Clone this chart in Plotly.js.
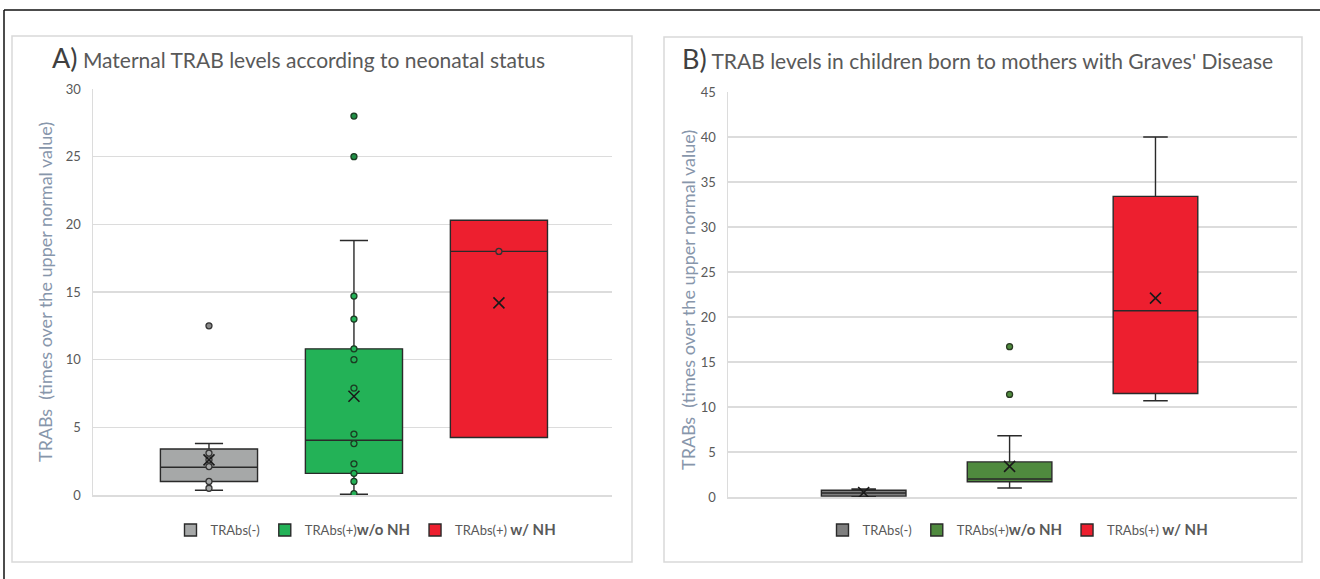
<!DOCTYPE html>
<html>
<head>
<meta charset="utf-8">
<script src="https://cdn.plot.ly/plotly-3.0.1.min.js"></script>
<style>html,body{margin:0;padding:0;background:#fff;}#chart{width:1320px;height:579px;}</style>
</head>
<body>
<div id="chart"></div>
<script>
// ---------- data ----------
const groups = ['TRAbs(-)', 'TRAbs(+)w/o NH', 'TRAbs(+) w/ NH'];
const legendNames = ['TRAbs(-)', 'TRAbs(+)<span style="font-size:15px;font-weight:bold">w/o NH</span>', 'TRAbs(+) <span style="font-size:15px;font-weight:bold">w/ NH</span>'];

// Panel A: maternal TRAB levels (box statistics)
const A_lowerfence = [0.35, 0.05, 4.25];
const A_q1         = [1.0, 1.6, 4.25];
const A_median     = [2.05, 4.05, 18.0];
const A_q3         = [3.4, 10.8, 20.3];
const A_upperfence = [3.8, 18.8, 20.3];
const A_mean       = [2.6, 7.3, 14.2];
const A_pointsNeg   = [0.5, 1.0, 2.1, 2.6, 3.1];
const A_pointsWoNH  = [0.1, 1.0, 1.6, 2.3, 3.8, 4.5, 7.9, 10.0, 10.8, 13.0, 14.7];
const A_pointsWNH   = [18.0];
const A_outNeg  = [12.5];
const A_outWoNH = [25.0, 28.0];

// Panel B: children TRAB levels
const B_lowerfence = [0.05, 1.0, 10.7];
const B_q1         = [0.1, 1.7, 11.5];
const B_median     = [0.45, 2.0, 20.7];
const B_q3         = [0.75, 3.9, 33.4];
const B_upperfence = [0.9, 6.8, 40.0];
const B_mean       = [0.5, 3.4, 22.1];
const B_outWoNH = [11.4, 16.7];

const yTicksA = [0, 5, 10, 15, 20, 25, 30];
const yTicksB = [0, 5, 10, 15, 20, 25, 30, 35, 40, 45];

// ---------- styling ----------
const FONT = 'Lato, "Open Sans", sans-serif';
const colA = ['#a6a8a8', '#23b257', '#ed1f2f'];
const colB = ['#7f7f7f', '#4f8a3e', '#ed1f2f'];
const LINE = '#2a2a2a';
const W = 1320, H = 579;
const px = v => v / W, py = v => 1 - v / H;

const traces = [];
function addPanel(ax, cols, stats, legendId) {
  const xa = ax === 1 ? 'x' : 'x2', ya = ax === 1 ? 'y' : 'y2';
  for (let i = 0; i < 3; i++) {
    traces.push({
      type: 'box', xaxis: xa, yaxis: ya, x: [groups[i]],
      q1: [stats.q1[i]], median: [stats.median[i]], q3: [stats.q3[i]],
      lowerfence: [stats.lf[i]], upperfence: [stats.uf[i]],
      name: legendNames[i], legend: legendId,
      fillcolor: cols[i], line: {color: LINE, width: 1.4},
      width: stats.w, whiskerwidth: 0.29, boxpoints: false, hoverinfo: 'skip'
    });
  }
}
function addPoints(ax, cat, ys, fill, lineCol, size) {
  traces.push({
    type: 'scatter', mode: 'markers', xaxis: ax === 1 ? 'x' : 'x2', yaxis: ax === 1 ? 'y' : 'y2',
    x: ys.map(() => cat), y: ys, showlegend: false, hoverinfo: 'skip',
    marker: {symbol: 'circle', size: size || 6, color: fill, line: {color: lineCol, width: 1.3}}
  });
}
function addMeans(ax, means) {
  traces.push({
    type: 'scatter', mode: 'markers', xaxis: ax === 1 ? 'x' : 'x2', yaxis: ax === 1 ? 'y' : 'y2',
    x: groups, y: means, showlegend: false, hoverinfo: 'skip',
    marker: {symbol: 'x-thin-open', size: 11, color: '#1a1a1a', line: {color: '#1a1a1a', width: 1.6}}
  });
}

addPanel(1, colA, {q1: A_q1, median: A_median, q3: A_q3, lf: A_lowerfence, uf: A_upperfence, w: 0.67}, 'legend');
addPoints(1, groups[0], A_pointsNeg, colA[0], '#333');
addPoints(1, groups[1], A_pointsWoNH, colA[1], '#1b3b22');
addPoints(1, groups[2], A_pointsWNH, colA[2], '#333');
addPoints(1, groups[0], A_outNeg, '#8a8a8a', '#333');
addPoints(1, groups[1], A_outWoNH, '#1f8f45', '#1b3b22');
addMeans(1, A_mean);

addPanel(2, colB, {q1: B_q1, median: B_median, q3: B_q3, lf: B_lowerfence, uf: B_upperfence, w: 0.58}, 'legend2');
addPoints(2, groups[1], B_outWoNH, '#4f8a3e', '#2a3a22');
addMeans(2, B_mean);

const tickFont = {family: FONT, size: 13, color: '#595959'};
function yaxis(range, ticks, domain, anchor) {
  return {
    domain: domain, range: range, tickvals: ticks, ticktext: ticks.map(String), anchor: anchor,
    showgrid: true, gridcolor: '#dcdcdc', gridwidth: 1.5, zeroline: false,
    showline: true, linecolor: '#dcdcdc', linewidth: 1.5, ticks: '', ticklabelstandoff: 8,
    tickfont: tickFont, fixedrange: true
  };
}
function xaxis(range, domain, anchor) {
  return {
    domain: domain, type: 'category', categoryarray: groups, range: range, anchor: anchor,
    showticklabels: false, showgrid: false, zeroline: false, ticks: '',
    showline: true, linecolor: '#dcdcdc', linewidth: 1.5, fixedrange: true
  };
}

const legendBase = {orientation: 'h', xanchor: 'center', y: py(530), yanchor: 'middle',
  font: {family: FONT, size: 13, color: '#595959'}, itemwidth: 30, bgcolor: 'rgba(0,0,0,0)'};

const layout = {
  width: W, height: H, margin: {l: 0, r: 0, t: 0, b: 0, autoexpand: false},
  paper_bgcolor: '#fff', plot_bgcolor: '#fff', font: {family: FONT},
  xaxis: xaxis([-0.8, 2.78], [px(93), px(612)], 'y'),
  yaxis: yaxis([0, 30], yTicksA, [py(495), py(89)], 'x'),
  xaxis2: xaxis([-0.93, 2.97], [px(728), px(1297)], 'y2'),
  yaxis2: yaxis([0, 45], yTicksB, [py(497), py(92)], 'x2'),
  legend: Object.assign({}, legendBase, {x: px(366)}),
  legend2: Object.assign({}, legendBase, {x: px(1018)}),
  shapes: [
    {type: 'line', xref: 'paper', yref: 'paper', x0: px(4), x1: 1, y0: py(10), y1: py(10), line: {color: '#111', width: 1.5}},
    {type: 'line', xref: 'paper', yref: 'paper', x0: px(4), x1: px(4), y0: py(10), y1: 0, line: {color: '#111', width: 1.5}},
    {type: 'rect', xref: 'paper', yref: 'paper', x0: px(12), x1: px(632), y0: py(562), y1: py(36), line: {color: '#d9d9d9', width: 1.5}},
    {type: 'rect', xref: 'paper', yref: 'paper', x0: px(664), x1: px(1302), y0: py(562), y1: py(37), line: {color: '#d9d9d9', width: 1.5}}
  ],
  annotations: [
    {xref: 'paper', yref: 'paper', x: px(50), y: py(58), xanchor: 'left', yanchor: 'middle', showarrow: false,
     text: '<span style="font-size:27px;color:#404040">A)</span> Maternal TRAB levels according to neonatal status',
     font: {family: FONT, size: 21, color: '#595959'}},
    {xref: 'paper', yref: 'paper', x: px(680), y: py(59), xanchor: 'left', yanchor: 'middle', showarrow: false,
     text: '<span style="font-size:27px;color:#404040">B)</span> TRAB levels in children born to mothers with Graves\' Disease',
     font: {family: FONT, size: 21, color: '#595959'}},
    {xref: 'paper', yref: 'paper', x: px(45), y: py(292), xanchor: 'center', yanchor: 'middle', showarrow: false, textangle: -90,
     text: 'TRABs  (times over the upper normal value)', font: {family: FONT, size: 18, color: '#8796ab'}},
    {xref: 'paper', yref: 'paper', x: px(688), y: py(300), xanchor: 'center', yanchor: 'middle', showarrow: false, textangle: -90,
     text: 'TRABs  (times over the upper normal value)', font: {family: FONT, size: 18, color: '#8796ab'}}
  ]
};

Plotly.newPlot('chart', traces, layout, {staticPlot: true, displayModeBar: false});
</script>
</body>
</html>
